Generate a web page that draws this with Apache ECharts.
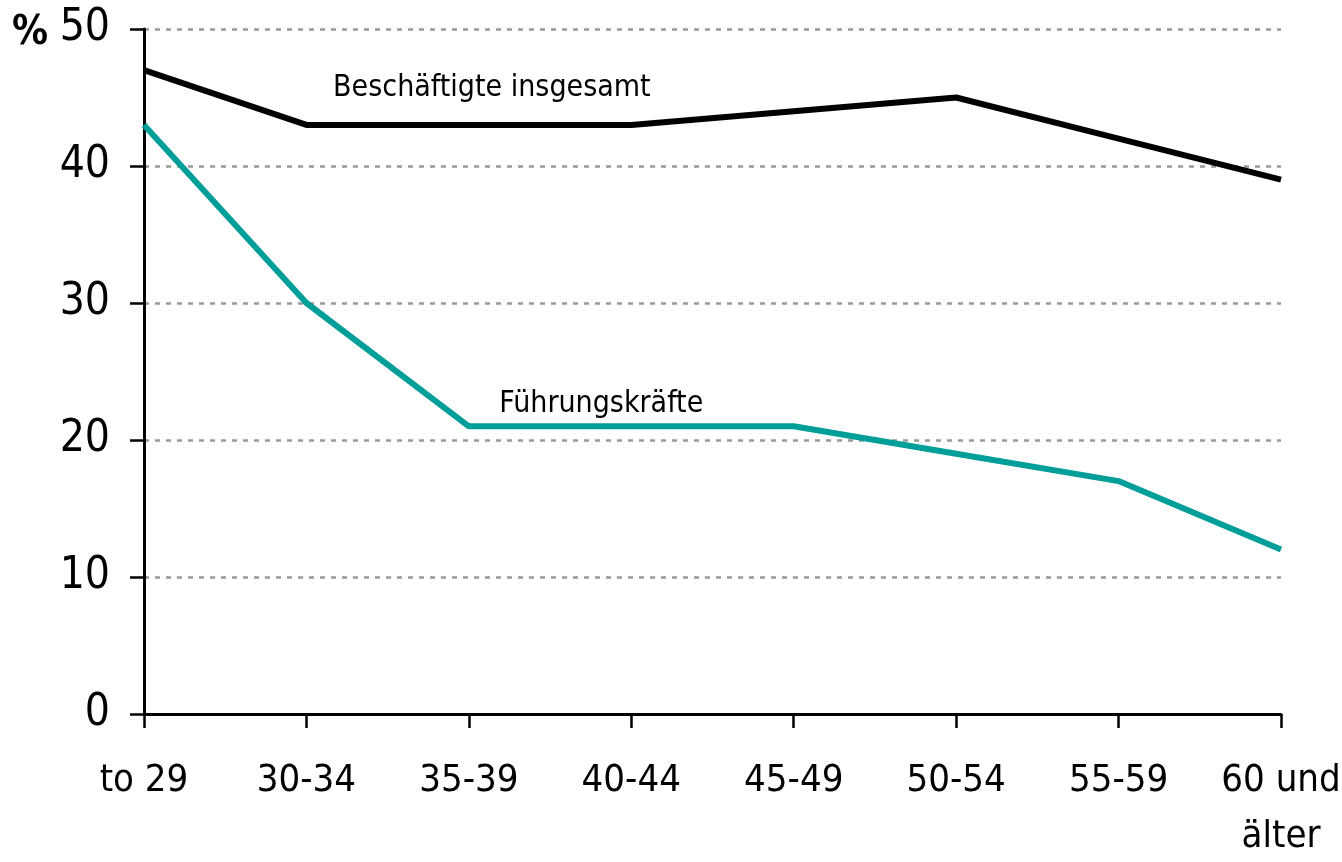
<!DOCTYPE html>
<html>
<head>
<meta charset="utf-8">
<script src="https://cdn.jsdelivr.net/npm/echarts@6/dist/echarts.min.js"></script>
<style>
  html, body { margin: 0; padding: 0; background: #fff; }
  #chart { width: 1342px; height: 862px; }
</style>
</head>
<body>
<div id="chart"></div>
<script>
// age groups
const categories = ['to 29', '30-34', '35-39', '40-44', '45-49', '50-54', '55-59', '60 und\nälter']
// share in %
const beschaeftigte = [47, 43, 43, 43, 44, 45, 42, 39]
const fuehrungskraefte = [43, 30, 21, 21, 21, 19, 17, 12]
const yTicks = { min: 0, max: 50, interval: 10 }

const font = "'Liberation Sans Narrow', 'DejaVu Sans Condensed', sans-serif"

const chart = echarts.init(document.getElementById('chart'))
chart.setOption({
  animation: false,
  grid: {
    left: 144,
    right: 61,
    top: 29,
    bottom: 148,
    containLabel: false,
    outerBoundsMode: 'none'
  },
  graphic: [{
    type: 'text',
    left: 12,
    top: 14,
    style: { text: '%', font: 'bold 40px ' + font, fill: '#000' }
  }],
  xAxis: {
    type: 'category',
    data: categories,
    boundaryGap: false,
    axisLine: { lineStyle: { color: '#000', width: 3 } },
    axisTick: { length: 14, lineStyle: { color: '#000', width: 2.5 } },
    axisLabel: {
      interval: 0,
      color: '#000',
      fontFamily: font,
      fontSize: 38,
      margin: 39,
      lineHeight: 56
    }
  },
  yAxis: {
    type: 'value',
    min: yTicks.min,
    max: yTicks.max,
    interval: yTicks.interval,
    axisLine: { show: true, lineStyle: { color: '#000', width: 3 } },
    axisTick: { show: true, length: 14, lineStyle: { color: '#000', width: 2.5 } },
    axisLabel: {
      color: '#000',
      fontFamily: font,
      fontSize: 44,
      margin: 34
    },
    splitLine: {
      lineStyle: { color: '#999', width: 2.5, type: [5, 6] }
    }
  },
  series: [
    {
      name: 'Beschäftigte insgesamt',
      type: 'line',
      data: beschaeftigte,
      symbol: 'none',
      lineStyle: { color: '#000', width: 6 },
      markPoint: {
        symbol: 'circle',
        symbolSize: 0,
        data: [{ coord: [2, 45.7] }],
        label: {
          show: true,
          formatter: 'Beschäftigte insgesamt',
          color: '#000',
          fontFamily: font,
          fontSize: 30,
          position: 'inside',
          offset: [23, 0]
        }
      }
    },
    {
      name: 'Führungskräfte',
      type: 'line',
      data: fuehrungskraefte,
      symbol: 'none',
      lineStyle: { color: '#009e99', width: 6 },
      markPoint: {
        symbol: 'circle',
        symbolSize: 0,
        data: [{ coord: [3, 22.6] }],
        label: {
          show: true,
          formatter: 'Führungskräfte',
          color: '#000',
          fontFamily: font,
          fontSize: 30,
          position: 'inside',
          offset: [-30, 0]
        }
      }
    }
  ]
})
</script>
</body>
</html>
